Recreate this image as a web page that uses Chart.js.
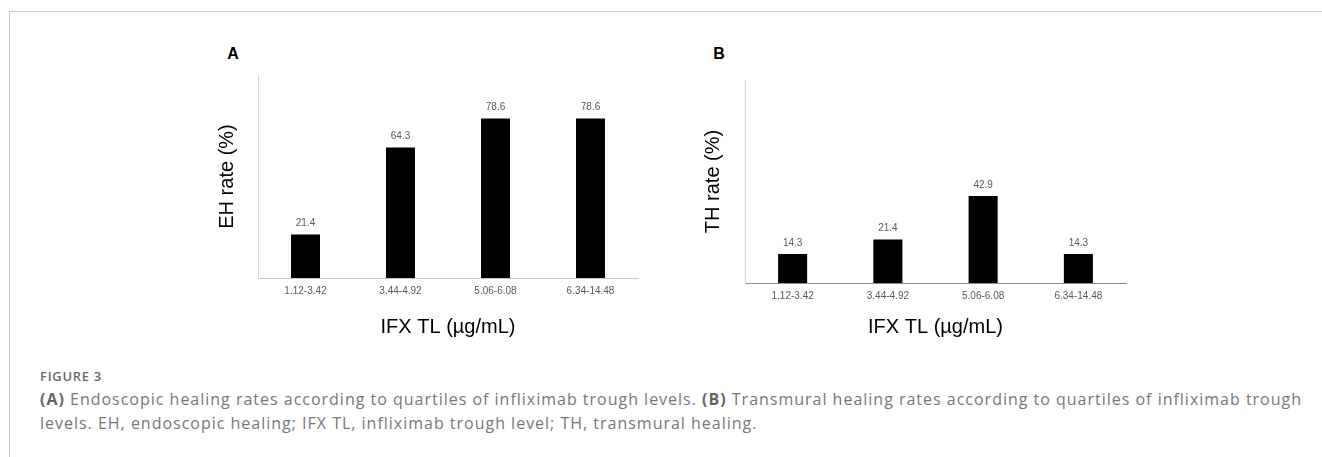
<!DOCTYPE html>
<html>
<head>
<meta charset="utf-8">
<script src="https://cdn.jsdelivr.net/npm/chart.js@4/dist/chart.umd.min.js"></script>
<style>
  html, body { margin:0; padding:0; background:#ffffff; }
  body { width:1322px; height:457px; position:relative; overflow:hidden; }
  .frame { position:absolute; left:9px; top:11px; width:1313px; height:446px;
           border-top:1px solid #cacaca; border-left:1px solid #cacaca; box-sizing:border-box; }
  .panel { position:absolute; font-family:"Liberation Sans", Arial, sans-serif; font-weight:bold;
           font-size:16px; color:#000; line-height:1; transform:translate(-50%,-50%); }
  canvas { position:absolute; }
  .figlabel { position:absolute; left:40px; top:368px; font-family:"Open Sans", sans-serif;
              font-size:13px; font-weight:600; color:#6a6a6a; line-height:16px; white-space:nowrap; }
  .caption { position:absolute; left:40px; top:387px; font-family:"Open Sans", sans-serif;
             font-size:16px; color:#777777; line-height:24px; white-space:nowrap; }
  .caption b { font-weight:700; color:#666; }
  .line { display:block; }
</style>
</head>
<body>
<div class="frame"></div>
<div class="panel" style="left:233px; top:54px;">A</div>
<div class="panel" style="left:719px; top:54px;">B</div>
<canvas id="chartA" width="460" height="320" style="left:190px; top:40px;"></canvas>
<canvas id="chartB" width="460" height="315" style="left:680px; top:45px;"></canvas>
<div class="figlabel"><span id="fig">FIGURE 3</span></div>
<div class="caption"><span class="line" id="cap1"><b>(A)</b> Endoscopic healing rates according to quartiles of infliximab trough levels. <b>(B)</b> Transmural healing rates according to quartiles of infliximab trough</span><span class="line" id="cap2">levels. EH, endoscopic healing; IFX TL, infliximab trough level; TH, transmural healing.</span></div>
<script>
const categories = ['1.12-3.42', '3.44-4.92', '5.06-6.08', '6.34-14.48'];
const ehRate = [21.4, 64.3, 78.6, 78.6];
const thRate = [14.3, 21.4, 42.9, 14.3];
const yTitleA = 'EH rate (%)';
const yTitleB = 'TH rate (%)';
const xTitle = 'IFX TL (\u00b5g/mL)';

// fit caption letter spacing to the reference's wider typeface
function fitSpacing(el, target) {
  el.style.display = 'inline-block';
  const w = el.getBoundingClientRect().width;
  const n = el.textContent.length;
  const ls = (target - w) / n;
  el.style.letterSpacing = ls.toFixed(3) + 'px';
  el.style.display = 'block';
  return ls;
}
const ls = fitSpacing(document.getElementById('cap1'), 1262);
document.getElementById('cap2').style.letterSpacing = ls.toFixed(3) + 'px';
fitSpacing(document.getElementById('fig'), 62);

Chart.defaults.font.family = '"Liberation Sans", Arial, sans-serif';
Chart.defaults.devicePixelRatio = 1;

const valueLabels = {
  id: 'valueLabels',
  afterDatasetsDraw(chart) {
    const ctx = chart.ctx;
    ctx.save();
    ctx.font = '10px "Liberation Sans", Arial, sans-serif';
    ctx.fillStyle = '#595959';
    ctx.textAlign = 'center';
    ctx.textBaseline = 'middle';
    chart.data.datasets.forEach((ds, i) => {
      chart.getDatasetMeta(i).data.forEach((el, j) => {
        ctx.fillText(ds.data[j].toFixed(1), el.x, el.y - 11);
      });
    });
    ctx.restore();
  }
};

function makeChart(id, data, yTitle, opts) {
  return new Chart(document.getElementById(id), {
    type: 'bar',
    data: {
      labels: categories,
      datasets: [{
        data: data,
        backgroundColor: '#000000',
        borderWidth: 0,
        barPercentage: 0.305,
        categoryPercentage: 1.0
      }]
    },
    options: {
      responsive: false,
      animation: false,
      layout: { padding: { top: 35, right: opts.right, left: 0, bottom: 0 } },
      plugins: { legend: { display: false }, tooltip: { enabled: false } },
      scales: {
        x: {
          grid: { display: false, drawTicks: false },
          border: { display: true, color: opts.xBorder, width: 1 },
          ticks: { color: '#595959', font: { size: 10 }, padding: 7, maxRotation: 0, autoSkip: false },
          title: { display: true, text: xTitle, color: '#000', font: { size: 20 }, padding: { top: 0, bottom: 21 } },
          afterFit: (s) => { s.height = opts.xHeight; }
        },
        y: {
          min: 0, max: 100,
          grid: { display: false, drawTicks: false },
          border: { display: true, color: '#d6d6d6', width: 1 },
          ticks: { display: false },
          title: { display: true, text: yTitle, color: '#000', font: { size: 20 }, padding: { top: opts.yPad, bottom: 0 } },
          afterFit: (s) => { s.width = opts.yWidth; }
        }
      }
    },
    plugins: [valueLabels]
  });
}

makeChart('chartA', ehRate, yTitleA, { right: 12, xHeight: 82, yWidth: 68, yPad: 25, xBorder: '#c8c8c8' });
makeChart('chartB', thRate, yTitleB, { right: 14, xHeight: 77, yWidth: 65, yPad: 21, xBorder: '#8c8c8c' });
</script>
</body>
</html>
